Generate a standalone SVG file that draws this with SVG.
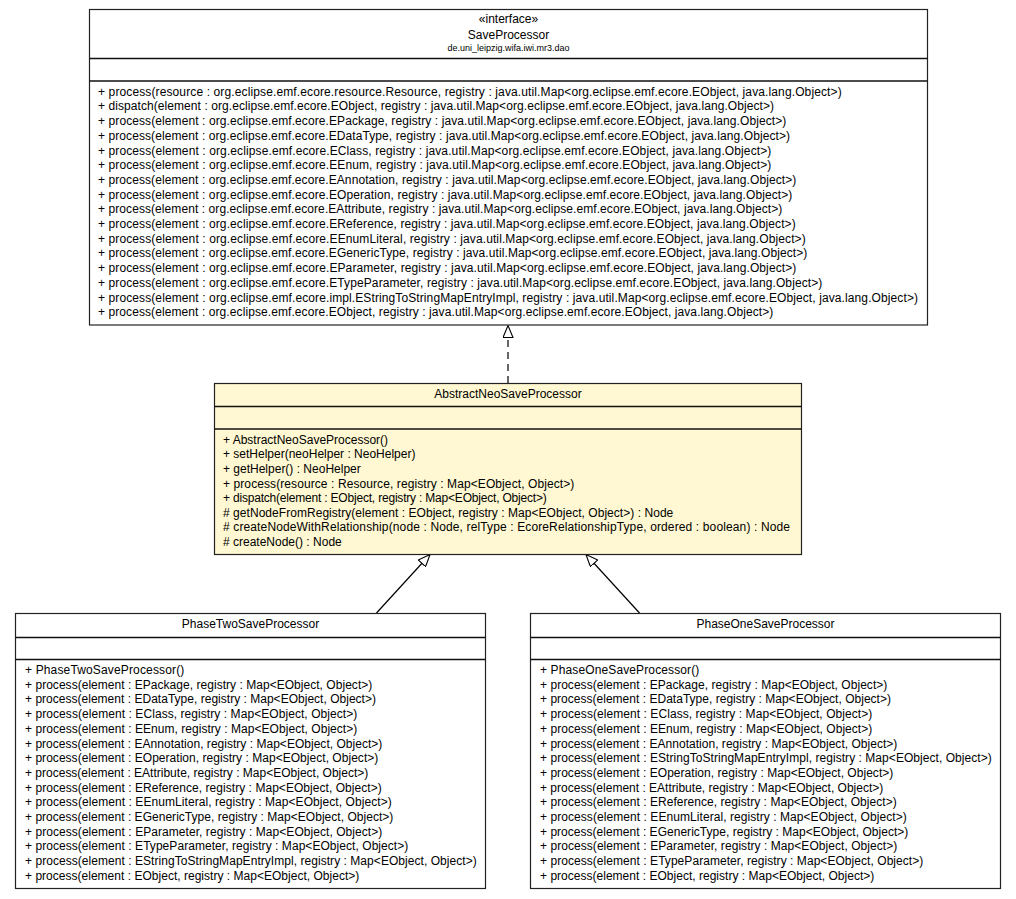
<svg xmlns="http://www.w3.org/2000/svg" width="1016" height="899" viewBox="0 0 1016 899">
<style>
text{font-family:"Liberation Sans",Arial,sans-serif;font-size:12px;fill:#000}
.t{text-anchor:middle}
.pkg{font-size:9px}
.box{fill:#fff;stroke:#222;stroke-width:1.2}
.focus{fill:#fff8d2}
.div{stroke:#111;stroke-width:1.6}
.conn{fill:none;stroke:#000;stroke-width:1.2}
.dash{stroke-dasharray:7,5}
</style>
<defs>
<marker id="tri" viewBox="0 0 13 11" refX="12.5" refY="5.5" markerWidth="13" markerHeight="11" markerUnits="userSpaceOnUse" orient="auto">
<path d="M0.5,0.5 L12.5,5.5 L0.5,10.5 Z" fill="#fff" stroke="#000" stroke-width="1.1" stroke-dasharray="none"/>
</marker>
</defs>
<g id="connectors">
<line class="conn dash" x1="508" y1="383" x2="508" y2="325.5" marker-end="url(#tri)"/>
<line class="conn" x1="376.5" y1="613" x2="430" y2="554.5" marker-end="url(#tri)"/>
<line class="conn" x1="639.5" y1="613" x2="586" y2="554.5" marker-end="url(#tri)"/>
</g>
<g id="SaveProcessor">
<rect class="box" x="89.5" y="9.5" width="838" height="315.5"/>
<line class="div" x1="89.5" y1="58.5" x2="927.5" y2="58.5"/>
<line class="div" x1="89.5" y1="81" x2="927.5" y2="81"/>
<text class="t" x="508.5" y="22.5">«interface»</text>
<text class="t" x="508.5" y="38.5">SaveProcessor</text>
<text class="t pkg" x="508.5" y="50.5">de.uni_leipzig.wifa.iwi.mr3.dao</text>
<text x="98" y="95.7" textLength="743.7" lengthAdjust="spacing">+ process(resource : org.eclipse.emf.ecore.resource.Resource, registry : java.util.Map&lt;org.eclipse.emf.ecore.EObject, java.lang.Object&gt;)</text>
<text x="98" y="110.4" textLength="676" lengthAdjust="spacing">+ dispatch(element : org.eclipse.emf.ecore.EObject, registry : java.util.Map&lt;org.eclipse.emf.ecore.EObject, java.lang.Object&gt;)</text>
<text x="98" y="125.1" textLength="688.3" lengthAdjust="spacing">+ process(element : org.eclipse.emf.ecore.EPackage, registry : java.util.Map&lt;org.eclipse.emf.ecore.EObject, java.lang.Object&gt;)</text>
<text x="98" y="139.8" textLength="692" lengthAdjust="spacing">+ process(element : org.eclipse.emf.ecore.EDataType, registry : java.util.Map&lt;org.eclipse.emf.ecore.EObject, java.lang.Object&gt;)</text>
<text x="98" y="154.5" textLength="673.3" lengthAdjust="spacing">+ process(element : org.eclipse.emf.ecore.EClass, registry : java.util.Map&lt;org.eclipse.emf.ecore.EObject, java.lang.Object&gt;)</text>
<text x="98" y="169.2" textLength="673.3" lengthAdjust="spacing">+ process(element : org.eclipse.emf.ecore.EEnum, registry : java.util.Map&lt;org.eclipse.emf.ecore.EObject, java.lang.Object&gt;)</text>
<text x="98" y="183.9" textLength="698.3" lengthAdjust="spacing">+ process(element : org.eclipse.emf.ecore.EAnnotation, registry : java.util.Map&lt;org.eclipse.emf.ecore.EObject, java.lang.Object&gt;)</text>
<text x="98" y="198.6" textLength="694.3" lengthAdjust="spacing">+ process(element : org.eclipse.emf.ecore.EOperation, registry : java.util.Map&lt;org.eclipse.emf.ecore.EObject, java.lang.Object&gt;)</text>
<text x="98" y="213.3" textLength="684.3" lengthAdjust="spacing">+ process(element : org.eclipse.emf.ecore.EAttribute, registry : java.util.Map&lt;org.eclipse.emf.ecore.EObject, java.lang.Object&gt;)</text>
<text x="98" y="228" textLength="697.7" lengthAdjust="spacing">+ process(element : org.eclipse.emf.ecore.EReference, registry : java.util.Map&lt;org.eclipse.emf.ecore.EObject, java.lang.Object&gt;)</text>
<text x="98" y="242.7" textLength="707.7" lengthAdjust="spacing">+ process(element : org.eclipse.emf.ecore.EEnumLiteral, registry : java.util.Map&lt;org.eclipse.emf.ecore.EObject, java.lang.Object&gt;)</text>
<text x="98" y="257.4" textLength="709.3" lengthAdjust="spacing">+ process(element : org.eclipse.emf.ecore.EGenericType, registry : java.util.Map&lt;org.eclipse.emf.ecore.EObject, java.lang.Object&gt;)</text>
<text x="98" y="272.1" textLength="698.3" lengthAdjust="spacing">+ process(element : org.eclipse.emf.ecore.EParameter, registry : java.util.Map&lt;org.eclipse.emf.ecore.EObject, java.lang.Object&gt;)</text>
<text x="98" y="286.8" textLength="724.3" lengthAdjust="spacing">+ process(element : org.eclipse.emf.ecore.ETypeParameter, registry : java.util.Map&lt;org.eclipse.emf.ecore.EObject, java.lang.Object&gt;)</text>
<text x="98" y="301.5" textLength="820" lengthAdjust="spacing">+ process(element : org.eclipse.emf.ecore.impl.EStringToStringMapEntryImpl, registry : java.util.Map&lt;org.eclipse.emf.ecore.EObject, java.lang.Object&gt;)</text>
<text x="98" y="316.2" textLength="675.3" lengthAdjust="spacing">+ process(element : org.eclipse.emf.ecore.EObject, registry : java.util.Map&lt;org.eclipse.emf.ecore.EObject, java.lang.Object&gt;)</text>
</g>
<g id="AbstractNeoSaveProcessor">
<rect class="box focus" x="214.5" y="383.5" width="587" height="171"/>
<line class="div" x1="214.5" y1="406.5" x2="801.5" y2="406.5"/>
<line class="div" x1="214.5" y1="429" x2="801.5" y2="429"/>
<text class="t" x="508" y="397.5">AbstractNeoSaveProcessor</text>
<text x="223" y="443.7">+ AbstractNeoSaveProcessor()</text>
<text x="223" y="458.3">+ setHelper(neoHelper : NeoHelper)</text>
<text x="223" y="472.9">+ getHelper() : NeoHelper</text>
<text x="223" y="487.5" textLength="351.3" lengthAdjust="spacing">+ process(resource : Resource, registry : Map&lt;EObject, Object&gt;)</text>
<text x="223" y="502.1" textLength="323.7" lengthAdjust="spacing">+ dispatch(element : EObject, registry : Map&lt;EObject, Object&gt;)</text>
<text x="223" y="516.7" textLength="450.3" lengthAdjust="spacing"># getNodeFromRegistry(element : EObject, registry : Map&lt;EObject, Object&gt;) : Node</text>
<text x="223" y="531.3" textLength="567" lengthAdjust="spacing"># createNodeWithRelationship(node : Node, relType : EcoreRelationshipType, ordered : boolean) : Node</text>
<text x="223" y="545.9"># createNode() : Node</text>
</g>
<g id="PhaseTwoSaveProcessor">
<rect class="box" x="15.5" y="613.5" width="470" height="275"/>
<line class="div" x1="15.5" y1="637.5" x2="485.5" y2="637.5"/>
<line class="div" x1="15.5" y1="659.5" x2="485.5" y2="659.5"/>
<text class="t" x="250.5" y="627.5">PhaseTwoSaveProcessor</text>
<text x="25" y="674" textLength="159.3" lengthAdjust="spacing">+ PhaseTwoSaveProcessor()</text>
<text x="25" y="688.7" textLength="347.3" lengthAdjust="spacing">+ process(element : EPackage, registry : Map&lt;EObject, Object&gt;)</text>
<text x="25" y="703.4" textLength="351" lengthAdjust="spacing">+ process(element : EDataType, registry : Map&lt;EObject, Object&gt;)</text>
<text x="25" y="718.1" textLength="332.3" lengthAdjust="spacing">+ process(element : EClass, registry : Map&lt;EObject, Object&gt;)</text>
<text x="25" y="732.8" textLength="332.3" lengthAdjust="spacing">+ process(element : EEnum, registry : Map&lt;EObject, Object&gt;)</text>
<text x="25" y="747.5" textLength="357.3" lengthAdjust="spacing">+ process(element : EAnnotation, registry : Map&lt;EObject, Object&gt;)</text>
<text x="25" y="762.2" textLength="353.3" lengthAdjust="spacing">+ process(element : EOperation, registry : Map&lt;EObject, Object&gt;)</text>
<text x="25" y="776.9" textLength="343.3" lengthAdjust="spacing">+ process(element : EAttribute, registry : Map&lt;EObject, Object&gt;)</text>
<text x="25" y="791.6" textLength="356.7" lengthAdjust="spacing">+ process(element : EReference, registry : Map&lt;EObject, Object&gt;)</text>
<text x="25" y="806.3" textLength="366.7" lengthAdjust="spacing">+ process(element : EEnumLiteral, registry : Map&lt;EObject, Object&gt;)</text>
<text x="25" y="821" textLength="368.3" lengthAdjust="spacing">+ process(element : EGenericType, registry : Map&lt;EObject, Object&gt;)</text>
<text x="25" y="835.7" textLength="357.3" lengthAdjust="spacing">+ process(element : EParameter, registry : Map&lt;EObject, Object&gt;)</text>
<text x="25" y="850.4" textLength="383.3" lengthAdjust="spacing">+ process(element : ETypeParameter, registry : Map&lt;EObject, Object&gt;)</text>
<text x="25" y="865.1" textLength="451.7" lengthAdjust="spacing">+ process(element : EStringToStringMapEntryImpl, registry : Map&lt;EObject, Object&gt;)</text>
<text x="25" y="879.8" textLength="334.3" lengthAdjust="spacing">+ process(element : EObject, registry : Map&lt;EObject, Object&gt;)</text>
</g>
<g id="PhaseOneSaveProcessor">
<rect class="box" x="530.5" y="613.5" width="470" height="275"/>
<line class="div" x1="530.5" y1="637.5" x2="1000.5" y2="637.5"/>
<line class="div" x1="530.5" y1="659.5" x2="1000.5" y2="659.5"/>
<text class="t" x="765.5" y="627.5">PhaseOneSaveProcessor</text>
<text x="540" y="674" textLength="159.3" lengthAdjust="spacing">+ PhaseOneSaveProcessor()</text>
<text x="540" y="688.7" textLength="347.3" lengthAdjust="spacing">+ process(element : EPackage, registry : Map&lt;EObject, Object&gt;)</text>
<text x="540" y="703.4" textLength="351" lengthAdjust="spacing">+ process(element : EDataType, registry : Map&lt;EObject, Object&gt;)</text>
<text x="540" y="718.1" textLength="332.3" lengthAdjust="spacing">+ process(element : EClass, registry : Map&lt;EObject, Object&gt;)</text>
<text x="540" y="732.8" textLength="332.3" lengthAdjust="spacing">+ process(element : EEnum, registry : Map&lt;EObject, Object&gt;)</text>
<text x="540" y="747.5" textLength="357.3" lengthAdjust="spacing">+ process(element : EAnnotation, registry : Map&lt;EObject, Object&gt;)</text>
<text x="540" y="762.2" textLength="451.7" lengthAdjust="spacing">+ process(element : EStringToStringMapEntryImpl, registry : Map&lt;EObject, Object&gt;)</text>
<text x="540" y="776.9" textLength="353.3" lengthAdjust="spacing">+ process(element : EOperation, registry : Map&lt;EObject, Object&gt;)</text>
<text x="540" y="791.6" textLength="343.3" lengthAdjust="spacing">+ process(element : EAttribute, registry : Map&lt;EObject, Object&gt;)</text>
<text x="540" y="806.3" textLength="356.7" lengthAdjust="spacing">+ process(element : EReference, registry : Map&lt;EObject, Object&gt;)</text>
<text x="540" y="821" textLength="366.7" lengthAdjust="spacing">+ process(element : EEnumLiteral, registry : Map&lt;EObject, Object&gt;)</text>
<text x="540" y="835.7" textLength="368.3" lengthAdjust="spacing">+ process(element : EGenericType, registry : Map&lt;EObject, Object&gt;)</text>
<text x="540" y="850.4" textLength="357.3" lengthAdjust="spacing">+ process(element : EParameter, registry : Map&lt;EObject, Object&gt;)</text>
<text x="540" y="865.1" textLength="383.3" lengthAdjust="spacing">+ process(element : ETypeParameter, registry : Map&lt;EObject, Object&gt;)</text>
<text x="540" y="879.8" textLength="334.3" lengthAdjust="spacing">+ process(element : EObject, registry : Map&lt;EObject, Object&gt;)</text>
</g>
</svg>
